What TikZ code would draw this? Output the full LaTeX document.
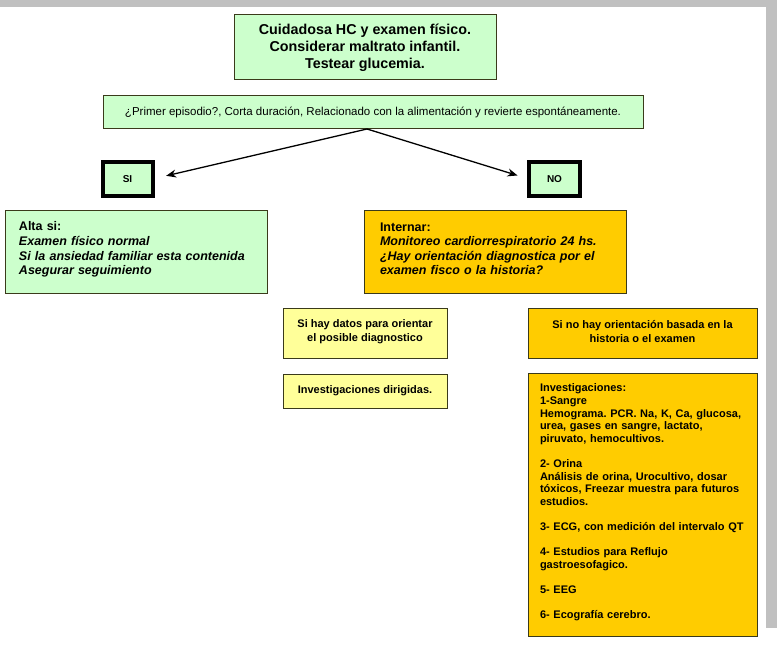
\documentclass[tikz,border=0pt]{standalone}
\usepackage{fontspec}
\setmainfont{Liberation Sans}
\usetikzlibrary{arrows.meta}
\definecolor{lgreen}{HTML}{CCFFCC}
\definecolor{gold}{HTML}{FFCC00}
\definecolor{lyellow}{HTML}{FFFF99}
\definecolor{bord}{HTML}{3A3A1A}
\definecolor{frame}{HTML}{C0C0C0}
\tikzset{
  box/.style={draw=bord, line width=1pt, inner sep=0pt, outer sep=0pt, font=\bfseries},
  gbox/.style={box, fill=lgreen},
  obox/.style={box, fill=gold},
  ybox/.style={box, fill=lyellow},
  choice/.style={draw=black, line width=4pt, fill=lgreen, inner sep=0pt, outer sep=0pt, font=\bfseries\fontsize{10}{11}\selectfont},
  arr/.style={line width=1.3pt, -{Stealth[length=10pt,width=8pt]}}
}
\begin{document}
\frenchspacing
\begin{tikzpicture}[x=1pt,y=-1pt]
\useasboundingbox[fill=white] (0,0) rectangle (780,650);
\fill[frame] (0,0) rectangle (777,7);
\fill[frame] (766,0) rectangle (777,628);

\node[gbox, minimum width=262pt, minimum height=65pt, align=center,
      font=\bfseries\fontsize{14.3}{17}\selectfont] (top) at (365,47.5)
  {Cuidadosa HC y examen físico.\\Considerar maltrato infantil.\\Testear glucemia.};

\node[gbox, minimum width=540pt, minimum height=33pt,
      font=\fontsize{11.5}{13}\selectfont] (q) at (373,112)
  {¿Primer episodio?, Corta duración, Relacionado con la alimentación y revierte espontáneamente.};

\node[choice, minimum width=50pt, minimum height=34pt] (si) at (127.5,179) {SI};
\node[choice, minimum width=51pt, minimum height=34pt] (no) at (554.5,179) {NO};

\coordinate (v) at (367,129);
\draw[arr, shorten >=14pt] (v) -- (si.east);
\draw[arr, shorten >=12pt] (v) -- (no.west);

\node[gbox, minimum width=262pt, minimum height=82pt, text width=234pt, align=left,
      inner xsep=14pt, font=\bfseries\fontsize{12.5}{14.7}\selectfont] (alta) at (136,252)
  {Alta si:\\\textit{Examen físico normal}\\\textit{Si la ansiedad familiar esta contenida}\\\textit{Asegurar seguimiento}\par\kern5pt};

\node[obox, minimum width=262pt, minimum height=82pt, text width=230pt, align=left,
      inner xsep=16pt, font=\bfseries\fontsize{12.5}{14.5}\selectfont] (int) at (495,252)
  {Internar:\\\textit{Monitoreo cardiorrespiratorio 24 hs.}\\\textit{¿Hay orientación diagnostica por el}\\\textit{examen fisco o la historia?}\par\kern6pt};

\node[ybox, minimum width=164pt, minimum height=50pt, align=center,
      font=\bfseries\fontsize{11}{14}\selectfont] (datos) at (365,333)
  {Si hay datos para orientar\\el posible diagnostico\\[-10pt]};

\node[obox, minimum width=229pt, minimum height=50pt, align=center,
      font=\bfseries\fontsize{11}{14}\selectfont] (nohay) at (642.5,333)
  {Si no hay orientación basada en la\\historia o el examen\\[-10pt]};

\node[ybox, minimum width=164pt, minimum height=34pt, align=center,
      font=\bfseries\fontsize{11}{12}\selectfont] (dirig) at (365,391)
  {Investigaciones dirigidas.};

\node[obox, minimum width=229pt, minimum height=263pt, text width=205pt, align=left,
      inner xsep=12pt, font=\bfseries\fontsize{11}{12.6}\selectfont] (inv) at (642.5,504.5)
  {Investigaciones:\\1-Sangre\\Hemograma. PCR. Na, K, Ca, glucosa,\\urea, gases en sangre, lactato,\\piruvato, hemocultivos.\\[12.6pt]
   2- Orina\\Análisis de orina, Urocultivo, dosar\\tóxicos, Freezar muestra para futuros\\estudios.\\[12.6pt]
   3- ECG, con medición del intervalo QT\\[12.6pt]
   4- Estudios para Reflujo\\gastroesofagico.\\[12.6pt]
   5- EEG\\[12.6pt]
   6- Ecografía cerebro.\par\kern4pt};
\end{tikzpicture}
\end{document}
